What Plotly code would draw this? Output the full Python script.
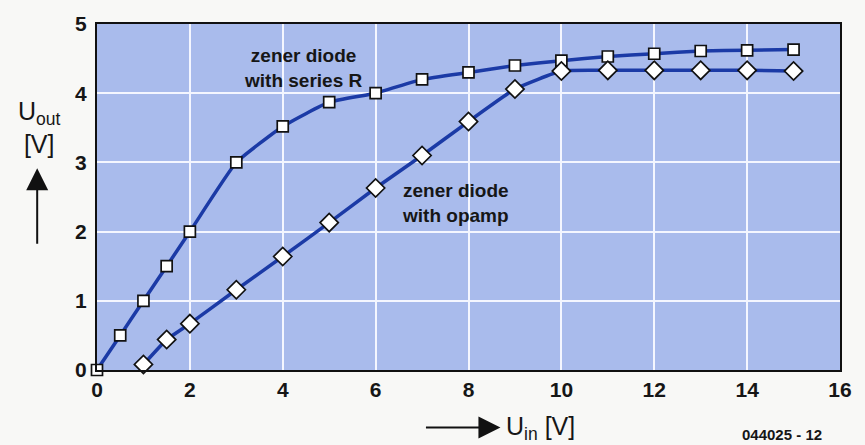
import plotly.graph_objects as go

# Input voltage steps (V)
u_in_series_r = [0, 0.5, 1, 1.5, 2, 3, 4, 5, 6, 7, 8, 9, 10, 11, 12, 13, 14, 15]
u_out_series_r = [0, 0.5, 1.0, 1.5, 2.0, 3.0, 3.52, 3.87, 4.0, 4.2, 4.3, 4.4, 4.47, 4.53, 4.57, 4.61, 4.62, 4.63]

u_in_opamp = [1, 1.5, 2, 3, 4, 5, 6, 7, 8, 9, 10, 11, 12, 13, 14, 15]
u_out_opamp = [0.08, 0.44, 0.67, 1.16, 1.64, 2.13, 2.63, 3.1, 3.59, 4.06, 4.32, 4.33, 4.33, 4.33, 4.33, 4.32]

x_ticks = [0, 2, 4, 6, 8, 10, 12, 14, 16]
y_ticks = [0, 1, 2, 3, 4, 5]

LINE_BLUE = "#1b3aa6"
PLOT_BG = "#a9bbec"
FONT = "Liberation Sans, Arial, sans-serif"
INK = "#161616"

fig = go.Figure()

fig.add_trace(go.Scatter(
    x=u_in_series_r, y=u_out_series_r, mode="lines+markers",
    line=dict(color=LINE_BLUE, width=3.5, shape="spline", smoothing=0.4),
    marker=dict(symbol="square", size=11, color="white",
                line=dict(color="#111111", width=1.7)),
    cliponaxis=False, showlegend=False,
))

fig.add_trace(go.Scatter(
    x=u_in_opamp, y=u_out_opamp, mode="lines+markers",
    line=dict(color=LINE_BLUE, width=3.5, shape="spline", smoothing=0.4),
    marker=dict(symbol="diamond", size=14, color="white",
                line=dict(color="#111111", width=1.7)),
    cliponaxis=False, showlegend=False,
))

annotations = [
    dict(x=4.44, y=4.36, xref="x", yref="y", xanchor="center", yanchor="middle",
         text="<b>zener diode<br>with series R</b>", showarrow=False,
         font=dict(family=FONT, size=19, color=INK), align="center"),
    dict(x=7.72, y=2.41, xref="x", yref="y", xanchor="center", yanchor="middle",
         text="<b>zener diode<br>with opamp</b>", showarrow=False,
         font=dict(family=FONT, size=19, color=INK), align="center"),
    # vertical axis title and arrow
    dict(x=-0.078, y=0.70, xref="paper", yref="paper", xanchor="center", yanchor="middle",
         text="U<sub>out</sub><br>[V]", showarrow=False, align="center",
         font=dict(family=FONT, size=25, color=INK)),
    dict(x=-0.0805, y=0.583, xref="paper", yref="paper", text="",
         showarrow=True, arrowhead=2, arrowsize=2.2, arrowwidth=2,
         arrowcolor="#111111", ax=0, ay=77),
    # horizontal axis title and arrow
    dict(x=0.543, y=-0.166, xref="paper", yref="paper", text="",
         showarrow=True, arrowhead=2, arrowsize=2.2, arrowwidth=2,
         arrowcolor="#111111", ax=-76, ay=0),
    dict(x=0.548, y=-0.168, xref="paper", yref="paper", xanchor="left", yanchor="middle",
         text="U<sub>in</sub> [V]", showarrow=False,
         font=dict(family=FONT, size=25, color=INK)),
    dict(x=0.978, y=-0.186, xref="paper", yref="paper", xanchor="right", yanchor="middle",
         text="<b>044025 - 12</b>", showarrow=False,
         font=dict(family=FONT, size=15, color=INK)),
]

fig.update_layout(
    width=865, height=445,
    margin=dict(l=97, r=25, t=21, b=75),
    paper_bgcolor="#f8f8f6",
    plot_bgcolor=PLOT_BG,
    annotations=annotations,
    xaxis=dict(
        range=[0, 16], tickvals=x_ticks, ticktext=[f"<b>{v}</b>" for v in x_ticks],
        showgrid=True, gridcolor="#f4f6ff", gridwidth=2, zeroline=False,
        showline=True, linecolor="#111111", linewidth=2, mirror=True,
        ticks="", tickfont=dict(family=FONT, size=21, color=INK),
        fixedrange=True,
    ),
    yaxis=dict(
        range=[0, 5], tickvals=y_ticks, ticktext=[f"<b>{v}</b>" for v in y_ticks],
        showgrid=True, gridcolor="#f4f6ff", gridwidth=2, zeroline=False,
        showline=True, linecolor="#111111", linewidth=2, mirror=True,
        ticks="", ticklabelstandoff=4, tickfont=dict(family=FONT, size=21, color=INK),
        fixedrange=True,
    ),
)

fig.write_html("out.html")
